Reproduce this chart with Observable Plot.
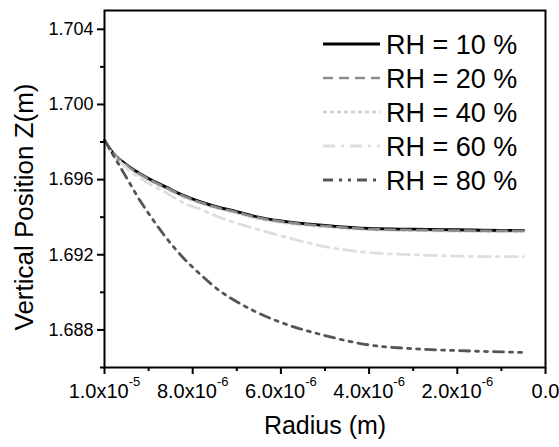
<!DOCTYPE html>
<html>
<head>
<meta charset="utf-8">
<script src="https://cdn.jsdelivr.net/npm/d3@7"></script>
<script src="https://cdn.jsdelivr.net/npm/@observablehq/plot@0.6"></script>
<style>
  body { margin: 0; background: #fff; }
  #chart { position: relative; width: 559px; height: 447px; font-family: "Liberation Sans", Arial, sans-serif; }
  #legend { position: absolute; left: 0; top: 0; pointer-events: none; }
</style>
</head>
<body>
<div id="chart"></div>
<script>
// radius (m)
const radius = [1.0e-5, 9.8e-6, 9.6e-6, 9.4e-6, 9.2e-6, 9.0e-6, 8.6e-6, 8.2e-6, 7.8e-6, 7.4e-6,
  7.0e-6, 6.6e-6, 6.0e-6, 5.0e-6, 4.0e-6, 3.0e-6, 2.0e-6, 1.0e-6, 5.0e-7]

const series = ["RH = 10 %", "RH = 20 %", "RH = 40 %", "RH = 60 %", "RH = 80 %"]

// vertical position Z (m) for each relative humidity
const z10 = [1.6981, 1.6974, 1.69697, 1.69662, 1.69633, 1.69606, 1.6956, 1.69515, 1.6948, 1.69452,
  1.6943, 1.69405, 1.6938, 1.69356, 1.6934, 1.69336, 1.69333, 1.6933, 1.6933]
const z20 = [1.6981, 1.6974, 1.69694, 1.69659, 1.6963, 1.69603, 1.69557, 1.69512, 1.69477, 1.69449,
  1.69427, 1.69402, 1.69377, 1.69353, 1.69337, 1.69332, 1.69329, 1.69327, 1.69327]
const z40 = [1.6981, 1.6973, 1.69688, 1.69653, 1.69624, 1.69597, 1.69551, 1.69507, 1.69472, 1.69444,
  1.69422, 1.69397, 1.69372, 1.69349, 1.69333, 1.69328, 1.69325, 1.69323, 1.69323]
const z60 = [1.6981, 1.6973, 1.69685, 1.6964, 1.6961, 1.6958, 1.6953, 1.69475, 1.6944, 1.694,
  1.69368, 1.6934, 1.69301, 1.69243, 1.69212, 1.692, 1.69193, 1.6919, 1.6919]
const z80 = [1.6981, 1.6973, 1.6965, 1.6957, 1.6949, 1.6942, 1.6929, 1.6918, 1.6909, 1.6901,
  1.6895, 1.689, 1.6884, 1.6877, 1.6872, 1.687, 1.6869, 1.68683, 1.6868]

const xTicks = [1.0e-5, 8.0e-6, 6.0e-6, 4.0e-6, 2.0e-6, 0]
const xMinor = [9.0e-6, 7.0e-6, 5.0e-6, 3.0e-6, 1.0e-6]
const yTicks = [1.688, 1.692, 1.696, 1.700, 1.704]
const yMinor = [1.686, 1.690, 1.694, 1.698, 1.702]

// line styles per series
const styles = {
  "RH = 10 %": {stroke: "#000", strokeWidth: 2.8, dash: null},
  "RH = 20 %": {stroke: "#8a8a8a", strokeWidth: 2.6, dash: "10,6"},
  "RH = 40 %": {stroke: "#cfcfcf", strokeWidth: 2.4, dash: "4,3"},
  "RH = 60 %": {stroke: "#dedede", strokeWidth: 2.8, dash: "12,6,3,6"},
  "RH = 80 %": {stroke: "#555", strokeWidth: 2.8, dash: "10,6,3,6,3,6"}
}
const drawOrder = ["RH = 40 %", "RH = 10 %", "RH = 20 %", "RH = 60 %", "RH = 80 %"]

const zs = [z10, z20, z40, z60, z80]
const data = series.flatMap((s, i) => radius.map((r, j) => ({rh: s, r: r, z: zs[i][j]})))

function xFormat(d) {
  if (d === 0) return "0.0"
  const e = Math.floor(Math.log10(d) + 1e-9)
  return (d / Math.pow(10, e)).toFixed(1) + "x10|" + e
}

let lines = drawOrder.map(s => Plot.line(data.filter(d => d.rh === s), {
  x: "r", y: "z",
  stroke: styles[s].stroke,
  strokeWidth: styles[s].strokeWidth,
  strokeDasharray: styles[s].dash,
  curve: "monotone-x"
}))

let chart = Plot.plot({
  width: 559,
  height: 447,
  marginLeft: 104,
  marginRight: 14,
  marginTop: 10,
  marginBottom: 80,
  style: {fontFamily: "'Liberation Sans', Arial, sans-serif", color: "#000", background: "#fff"},
  x: {domain: [1.0e-5, 0]},
  y: {domain: [1.686, 1.705]},
  marks: [
    ...lines,
    Plot.axisX(xTicks, {tickSize: 7, tickPadding: 9, tickFormat: xFormat, fontSize: 20, strokeWidth: 2, label: null}),
    Plot.axisX(xMinor, {tickSize: 4, tickFormat: () => "", strokeWidth: 2, label: null}),
    Plot.axisY(yTicks, {tickSize: 7, tickPadding: 4, tickFormat: d3.format(".3f"), fontSize: 18, strokeWidth: 2, label: null}),
    Plot.axisY(yMinor, {tickSize: 4, tickFormat: () => "", strokeWidth: 2, label: null}),
    Plot.frame({stroke: "#000", strokeWidth: 2}),
    Plot.text(["Radius (m)"], {frameAnchor: "bottom", dy: 66, fontSize: 25}),
    Plot.text(["Vertical Position Z(m)"], {frameAnchor: "left", textAnchor: "middle", rotate: -90, dx: -80, dy: 18, fontSize: 26})
  ]
})

// superscript exponents on the x tick labels
d3.select(chart).selectAll('g[aria-label="x-axis tick label"] text').each(function () {
  const t = d3.select(this)
  const parts = t.text().split("|")
  if (parts.length < 2) return
  t.text(null)
  t.append("tspan").text(parts[0])
  t.append("tspan").attr("font-size", 13).attr("dy", -12).text(parts[1])
})

d3.select("#chart").append(() => chart)

// legend inside the top right of the frame
const legend = d3.select("#chart").append("svg")
  .attr("id", "legend")
  .attr("width", 559).attr("height", 447)
series.forEach((s, i) => {
  const y = 44 + i * 34
  legend.append("line")
    .attr("x1", 323).attr("x2", 380).attr("y1", y).attr("y2", y)
    .attr("stroke", styles[s].stroke)
    .attr("stroke-width", styles[s].strokeWidth)
    .attr("stroke-dasharray", styles[s].dash)
  legend.append("text")
    .attr("x", 386).attr("y", y).attr("dy", "0.36em")
    .attr("font-size", 27)
    .attr("font-family", "'Liberation Sans', Arial, sans-serif")
    .text(s)
})
</script>
</body>
</html>
